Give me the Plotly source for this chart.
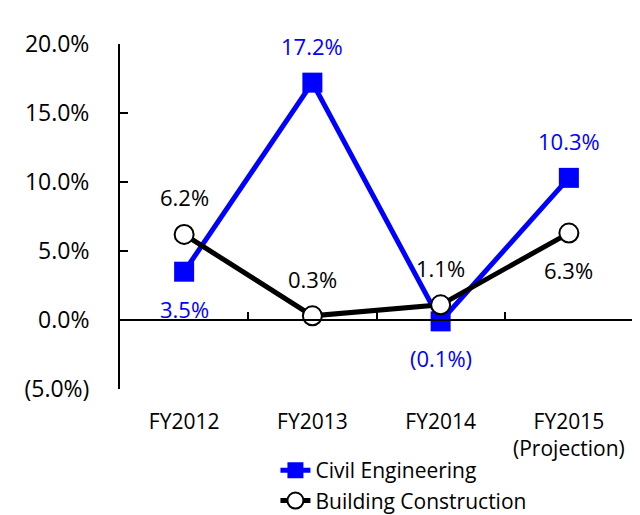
import plotly.graph_objects as go

categories = ["FY2012", "FY2013", "FY2014", "FY2015<br>(Projection)"]
civil = [3.5, 17.2, -0.1, 10.3]
building = [6.2, 0.3, 1.1, 6.3]
civil_label_side = [-1, 1, -1, 1]      # 1 = above the marker, -1 = below
building_label_side = [1, 1, 1, -1]
y_ticks = [-5, 0, 5, 10, 15, 20]
y_tick_text = ["(5.0%)", "0.0%", "5.0%", "10.0%", "15.0%", "20.0%"]

def fmt(v):
    return f"({abs(v):.1f}%)" if v < 0 else f"{v:.1f}%"

FONT = "Open Sans, Noto Sans, sans-serif"
FS = 22
x = list(range(len(categories)))

fig = go.Figure()
fig.add_trace(go.Scatter(
    x=x, y=civil, name="Civil Engineering", mode="lines+markers",
    line=dict(color="#0000FF", width=5),
    marker=dict(symbol="square", size=20, color="#0000FF"),
))
fig.add_trace(go.Scatter(
    x=x, y=building, name="Building Construction", mode="lines+markers",
    line=dict(color="#000000", width=5),
    marker=dict(symbol="circle", size=19, color="#FFFFFF", line=dict(color="#000000", width=2)),
))
# secondary x-axis used only to draw the zero line with category-boundary ticks
fig.add_trace(go.Scatter(x=[None], y=[None], xaxis="x2", showlegend=False, hoverinfo="skip"))

for series, sides, color in ((civil, civil_label_side, "#0000FF"),
                             (building, building_label_side, "#000000")):
    for xi, v, s in zip(x, series, sides):
        fig.add_annotation(x=xi, y=v, text=fmt(v), showarrow=False,
                           yshift=37 * s, font=dict(color=color, size=FS, family=FONT))

fig.update_layout(
    width=640, height=515,
    margin=dict(l=112, r=15, t=36, b=134, autoexpand=False),
    plot_bgcolor="white", paper_bgcolor="white",
    font=dict(family=FONT, size=FS, color="#000000"),
    showlegend=True,
    legend=dict(orientation="v", x=0.303, xanchor="left", y=-0.177, yanchor="top",
                font=dict(size=FS - 1, family=FONT), tracegroupgap=0,
                bgcolor="rgba(0,0,0,0)"),
    xaxis=dict(range=[-0.5, 3.5], tickvals=x, ticktext=categories, showline=False,
               showgrid=False, zeroline=False, ticks="", ticklabelstandoff=18,
               automargin=False, tickfont=dict(size=FS - 1, family=FONT)),
    xaxis2=dict(range=[-0.5, 3.5], overlaying="x", anchor="free", position=0.2,
                tickvals=[0.5, 1.5, 2.5], showticklabels=False, ticks="inside",
                ticklen=7, tickwidth=1.5, tickcolor="black", automargin=False,
                showline=True, linecolor="black", linewidth=2, showgrid=False, zeroline=False),
    yaxis=dict(range=[-5, 20], tickvals=y_ticks, ticktext=y_tick_text, showgrid=False,
               zeroline=False, showline=True, linecolor="black", linewidth=2,
               ticks="inside", ticklen=8, tickwidth=2, tickcolor="black", automargin=False,
               ticklabelstandoff=24, tickfont=dict(size=FS + 1, family=FONT)),
)
fig.write_html("out.html")
